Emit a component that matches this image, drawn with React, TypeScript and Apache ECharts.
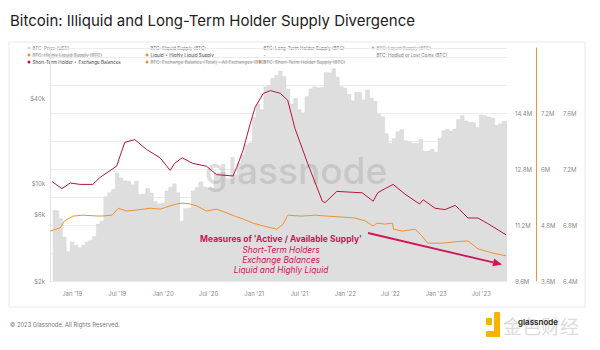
import React, { useEffect, useRef } from 'react';
import * as echarts from 'echarts';

// ---------- DATA ----------
const priceDates = [
  '2018-10-15','2018-11-01','2018-11-15','2018-12-01','2018-12-15',
  '2019-01-01','2019-01-15','2019-02-01','2019-02-15','2019-03-01','2019-03-15','2019-04-01','2019-04-15','2019-05-01','2019-05-15','2019-06-01','2019-06-15',
  '2019-07-01','2019-07-15','2019-08-01','2019-08-15','2019-09-01','2019-09-15','2019-10-01','2019-10-15','2019-11-01','2019-11-15','2019-12-01','2019-12-15',
  '2020-01-01','2020-01-15','2020-02-01','2020-02-15','2020-03-01','2020-03-15','2020-04-01','2020-04-15','2020-05-01','2020-05-15','2020-06-01','2020-06-15',
  '2020-07-01','2020-07-15','2020-08-01','2020-08-15','2020-09-01','2020-09-15','2020-10-01','2020-10-15','2020-11-01','2020-11-15','2020-12-01','2020-12-15',
  '2021-01-01','2021-01-15','2021-02-01','2021-02-15','2021-03-01','2021-03-15','2021-04-01','2021-04-15','2021-05-01','2021-05-15','2021-06-01','2021-06-15',
  '2021-07-01','2021-07-15','2021-08-01','2021-08-15','2021-09-01','2021-09-15','2021-10-01','2021-10-15','2021-11-01','2021-11-15','2021-12-01','2021-12-15',
  '2022-01-01','2022-01-15','2022-02-01','2022-02-15','2022-03-01','2022-03-15','2022-04-01','2022-04-15','2022-05-01','2022-05-15','2022-06-01','2022-06-15',
  '2022-07-01','2022-07-15','2022-08-01','2022-08-15','2022-09-01','2022-09-15','2022-10-01','2022-10-15','2022-11-01','2022-11-15','2022-12-01','2022-12-15',
  '2023-01-01','2023-01-15','2023-02-01','2023-02-15','2023-03-01','2023-03-15','2023-04-01','2023-04-15','2023-05-01','2023-05-15','2023-06-01','2023-06-15',
  '2023-07-01','2023-07-15','2023-08-01','2023-08-15','2023-09-01','2023-09-15','2023-10-01','2023-10-12'
];
const priceUsd = [
  6400, 6350, 5600, 4100, 3250,
  3800, 3600, 3450, 3600, 3800, 3900, 4150, 5100, 5350, 8000, 8550, 9000,
  11800, 10900, 10400, 10300, 9750, 10300, 8300, 8350, 9150, 8500, 7400, 7100,
  7200, 8800, 9350, 9900, 8550, 5350, 6600, 6650, 8800, 9300, 10200, 9400,
  9200, 9200, 11800, 11900, 11900, 10800, 10600, 11500, 13800, 15900, 18800, 19400,
  29400, 36700, 33500, 48800, 49600, 56000, 58800, 63200, 57800, 46800, 36700, 40200,
  33500, 31800, 41500, 47000, 48800, 48000, 48200, 61600, 61300, 65500, 57000, 48900,
  47700, 43000, 38700, 44500, 44400, 39300, 46300, 40500, 38500, 31300, 29800, 22500,
  19300, 20800, 23300, 24100, 20100, 19700, 19300, 19100, 20500, 16900, 17000, 17400,
  16600, 20900, 23700, 24300, 23600, 24400, 28500, 30300, 27800, 27200, 27000, 25000,
  30600, 30300, 29700, 29200, 25900, 26600, 27700, 27400
];

// Short-Term Holder + Exchange Balances (million BTC)
const sthExDates = [
  '2018-10-12','2018-11-21','2018-12-24','2019-02-02','2019-03-25','2019-04-23','2019-06-28','2019-07-31',
  '2019-09-09','2019-10-26','2019-12-20','2020-01-29','2020-02-16','2020-03-17','2020-04-29','2020-06-23',
  '2020-08-02','2020-10-07','2020-10-22','2020-11-16','2020-12-15','2021-01-04','2021-02-06','2021-03-07',
  '2021-04-16','2021-05-15','2021-06-13','2021-08-03','2021-10-01','2021-10-12','2021-11-28','2022-03-10',
  '2022-04-23','2022-05-11','2022-06-10','2022-07-12','2022-08-29','2022-10-26','2022-11-10','2022-12-27',
  '2023-02-05','2023-03-18','2023-04-05','2023-05-08','2023-06-17','2023-07-27','2023-10-08'
];
const sthExValues = [
  7.11, 7.06, 7.10, 7.09, 7.09, 7.14, 7.22, 7.39,
  7.41, 7.34, 7.28, 7.19, 7.24, 7.28, 7.24, 7.22,
  7.16, 7.15, 7.21, 7.33, 7.52, 7.64, 7.74, 7.76,
  7.74, 7.69, 7.49, 7.24, 6.97, 6.96, 7.04, 7.03,
  6.97, 7.03, 7.06, 7.09, 7.02, 6.95, 6.98, 6.92,
  6.91, 6.94, 6.91, 6.85, 6.85, 6.81, 6.73
];

// Liquid + Highly Liquid Supply (million BTC)
const liquidDates = [
  '2018-10-05','2018-11-14','2018-12-02','2019-01-04','2019-02-13','2019-04-23','2019-06-10','2019-07-05',
  '2019-08-07','2019-09-16','2019-11-10','2019-12-20','2020-01-29','2020-02-24','2020-03-17','2020-04-19',
  '2020-05-14','2020-06-23','2020-08-02','2020-09-12','2020-10-14','2020-11-16','2020-12-27','2021-02-06',
  '2021-04-01','2021-04-27','2021-05-15','2021-07-12','2021-09-02','2021-10-23','2021-12-20','2022-02-09',
  '2022-03-21','2022-04-23','2022-05-08','2022-06-10','2022-07-09','2022-07-14','2022-08-18','2022-10-08',
  '2022-11-06','2022-11-28','2023-01-26','2023-03-18','2023-05-08','2023-06-17','2023-08-14','2023-10-08'
];
const liquidValues = [
  4.67, 4.74, 4.89, 4.99, 5.01, 4.99, 5.01, 5.16,
  5.10, 5.12, 5.16, 5.14, 5.21, 5.25, 5.27, 5.25,
  5.21, 5.10, 5.14, 5.06, 4.99, 4.93, 4.84, 4.78,
  4.71, 4.82, 5.01, 4.99, 5.01, 4.99, 4.97, 4.95,
  4.89, 4.78, 4.84, 4.82, 4.84, 4.71, 4.67, 4.71,
  4.56, 4.41, 4.41, 4.44, 4.46, 4.29, 4.20, 4.14
];

const xTickDates = ['2019-01-01','2019-07-01','2020-01-01','2020-07-01','2021-01-01','2021-07-01','2022-01-01','2022-07-01','2023-01-01','2023-07-01'];
const xRange = ['2018-10-04', '2023-10-12'];
const monthNames = ['Jan','Feb','Mar','Apr','May','Jun','Jul','Aug','Sep','Oct','Nov','Dec'];
const priceTicks = [2000, 6000, 10000, 40000];
const axis1Ticks = [9.6, 11.2, 12.8, 14.4];
const axis2Ticks = [3.6, 4.8, 6, 7.2];
const axis3Ticks = [6.4, 6.8, 7.2, 7.6];

const titleText = 'Bitcoin: Illiquid and Long-Term Holder Supply Divergence';
const annotationTitle = "Measures of 'Active / Available Supply'";
const annotationLines = ['Short-Term Holders', 'Exchange Balances', 'Liquid and Highly Liquid'];
const footerText = '© 2023 Glassnode. All Rights Reserved.';

type LegendItem = { t: string; dot: string | null; c: string; struck?: boolean } | null;
const legendRows: LegendItem[][] = [
  [
    { t: 'BTC: Price (USD)', dot: '#d4d4d4', c: '#8a8a8a' },
    { t: 'BTC: Illiquid Supply (BTC)', dot: null, c: '#777' },
    { t: 'BTC: Long-Term Holder Supply (BTC)', dot: null, c: '#777' },
    { t: 'BTC: Liquid Supply (BTC)', dot: '#f2a55a', c: '#aaa', struck: true },
  ],
  [
    { t: 'BTC: Highly Liquid Supply (BTC)', dot: '#f0902c', c: '#999', struck: true },
    { t: 'Liquid + Highly Liquid Supply', dot: '#f0902c', c: '#444' },
    { t: '-', dot: null, c: '#444' },
    { t: 'BTC: Hodled or Lost Coins (BTC)', dot: null, c: '#777' },
  ],
  [
    { t: 'Short-Term Holder + Exchange Balances', dot: '#b8153a', c: '#444' },
    { t: 'BTC: Exchange Balance (Total) - All Exchanges (BTC)', dot: '#f0902c', c: '#999', struck: true },
    { t: 'BTC: Short-Term Holder Supply (BTC)', dot: '#f0902c', c: '#999', struck: true },
    null,
  ],
];

// ---------- LAYOUT ----------
const FONT = 'Inter, "Noto Sans", sans-serif';
const GRID = { left: 50, right: 93, top: 48, bottom: 69 };
const GRID_H = 350 - GRID.top - GRID.bottom;
const STEP_PX = 56;
const DECADE_PX = 140;

function ts(s: string): number {
  const [y, m, d] = s.split('-').map(Number);
  return new Date(y, m - 1, d).getTime();
}

function measure(text: string, size: number): number {
  const c = document.createElement('canvas').getContext('2d');
  if (!c) return text.length * size * 0.5;
  c.font = `${size}px Inter`;
  return c.measureText(text).width;
}

export default function App() {
  const ref = useRef<HTMLDivElement>(null);

  useEffect(() => {
    document.body.style.margin = '0';
    if (!ref.current) return;
    const chart = echarts.init(ref.current, undefined, { renderer: 'svg' });

    const logMin = Math.log10(2000);
    const logMax = logMin + GRID_H / DECADE_PX;

    const labelStyle = { fontSize: 6, color: '#8a8a8a', fontFamily: FONT };
    const mFmt = (v: number) => `${Number(v.toFixed(1))}M`;

    // legend graphics
    const colX = [29, 147, 260, 373];
    const rowY = [48, 55, 62];
    const LFS = 4.6;
    const legendEls: any[] = [];
    legendRows.forEach((row, ri) => {
      row.forEach((it, ci) => {
        if (!it) return;
        const x = colX[ci];
        const y = rowY[ri];
        if (it.dot) {
          legendEls.push({ type: 'circle', silent: true, shape: { cx: x, cy: y, r: 1.5 }, style: { fill: it.dot } });
        }
        legendEls.push({
          type: 'text', silent: true, x: x + 3.5, y,
          style: { text: it.t, fontSize: LFS, fill: it.c, fontFamily: FONT, verticalAlign: 'middle', align: 'left' },
        });
        if (it.struck) {
          const w = measure(it.t, LFS);
          legendEls.push({
            type: 'line', silent: true,
            shape: { x1: x + 3.5, y1: y, x2: x + 3.5 + w, y2: y },
            style: { stroke: it.c, lineWidth: 0.5 },
          });
        }
      });
    });

    // arrow
    const ax1 = 368, ay1 = 233, ax2 = 502, ay2 = 264.5;
    const len = Math.hypot(ax2 - ax1, ay2 - ay1);
    const ux = (ax2 - ax1) / len, uy = (ay2 - ay1) / len;
    const bx = ax2 - ux * 9, by = ay2 - uy * 9;
    const px = -uy * 4, py = ux * 4;
    const RED = '#d0145a';

    const option: any = {
      animation: false,
      grid: { ...GRID, containLabel: false },
      xAxis: {
        type: 'value',
        min: ts(xRange[0]),
        max: ts(xRange[1]),
        axisLine: { show: false },
        axisTick: { show: false },
        splitLine: { show: false },
        axisLabel: {
          ...labelStyle,
          margin: 9,
          customValues: xTickDates.map(ts),
          formatter: (v: number) => {
            const d = new Date(v);
            return `${monthNames[d.getMonth()]} '${String(d.getFullYear()).slice(2)}`;
          },
        },
      },
      yAxis: [
        {
          type: 'value', position: 'left', min: logMin, max: logMax,
          axisLine: { show: true, lineStyle: { color: '#e4e4e4', width: 1 } },
          axisTick: { show: false },
          splitLine: { show: false },
          axisLabel: {
            ...labelStyle, margin: 5,
            customValues: priceTicks.map((p) => Math.log10(p)),
            formatter: (v: number) => `$${Math.round(Math.pow(10, v) / 1000)}k`,
          },
        },
        {
          type: 'value', position: 'right', offset: 0, min: 9.6, max: 9.6 + (GRID_H / STEP_PX) * 1.6, interval: 0.8,
          axisLine: { show: false }, axisTick: { show: false },
          splitLine: { show: true, lineStyle: { color: '#ececec', width: 1 } },
          axisLabel: { ...labelStyle, margin: 8, customValues: axis1Ticks, formatter: mFmt },
        },
        {
          type: 'value', position: 'right', offset: 29, min: 3.6, max: 3.6 + (GRID_H / STEP_PX) * 1.2,
          axisLine: { show: true, lineStyle: { color: '#e0973f', width: 1 } }, axisTick: { show: false },
          splitLine: { show: false },
          axisLabel: { ...labelStyle, margin: 5, customValues: axis2Ticks, formatter: mFmt },
        },
        {
          type: 'value', position: 'right', offset: 50, min: 6.4, max: 6.4 + (GRID_H / STEP_PX) * 0.4,
          axisLine: { show: false }, axisTick: { show: false },
          splitLine: { show: false },
          axisLabel: { ...labelStyle, margin: 6, customValues: axis3Ticks, formatter: mFmt },
        },
      ],
      series: [
        {
          name: 'BTC: Price (USD)', type: 'line', xAxisIndex: 0, yAxisIndex: 0,
          data: priceDates.map((d, i) => [ts(d), Math.log10(priceUsd[i])]),
          step: 'middle',
          showSymbol: false,
          lineStyle: { width: 0.4, color: '#d2d2d2' },
          areaStyle: { color: '#dedede', opacity: 1, origin: 'start' },
          z: 2,
        },
        {
          name: 'Liquid + Highly Liquid Supply', type: 'line', yAxisIndex: 2,
          data: liquidDates.map((d, i) => [ts(d), liquidValues[i]]),
          showSymbol: false, lineStyle: { color: '#f0902c', width: 1 }, z: 5,
        },
        {
          name: 'Short-Term Holder + Exchange Balances', type: 'line', yAxisIndex: 3,
          data: sthExDates.map((d, i) => [ts(d), sthExValues[i]]),
          showSymbol: false, lineStyle: { color: '#b8153a', width: 1 }, z: 5,
        },
      ],
      graphic: [
        { type: 'rect', silent: true, z: 0, shape: { x: 9, y: 42, width: 576, height: 265 }, style: { fill: 'none', stroke: '#e8e8e8', lineWidth: 1 } },
        { type: 'text', silent: true, x: 10, y: 20, style: { text: titleText, fontSize: 15, fill: '#222', fontFamily: FONT, verticalAlign: 'middle' } },
        ...legendEls,
        {
          type: 'text', silent: true, z: 3, x: 296, y: 170,
          style: { text: 'glassnode', fontSize: 37, fontWeight: 500, fill: 'rgba(150,150,150,0.32)', fontFamily: FONT, align: 'center', verticalAlign: 'middle' },
        },
        {
          type: 'text', silent: true, z: 10, x: 281, y: 239,
          style: { text: annotationTitle, fontSize: 8.5, fontWeight: 'bold', fill: RED, fontFamily: FONT, align: 'center', verticalAlign: 'middle' },
        },
        ...annotationLines.map((t, i) => ({
          type: 'text', silent: true, z: 10, x: 281, y: 249.5 + i * 10,
          style: { text: t, fontSize: 8.3, fontStyle: 'italic', fill: RED, fontFamily: FONT, align: 'center', verticalAlign: 'middle' },
        })),
        { type: 'line', silent: true, z: 10, shape: { x1: ax1, y1: ay1, x2: bx, y2: by }, style: { stroke: RED, lineWidth: 1.8 } },
        { type: 'polygon', silent: true, z: 10, shape: { points: [[ax2, ay2], [bx + px, by + py], [bx - px, by - py]] }, style: { fill: RED } },
        { type: 'text', silent: true, x: 10, y: 324, style: { text: footerText, fontSize: 5.8, fill: '#777', fontFamily: FONT, verticalAlign: 'middle' } },
        // bottom-right logo
        { type: 'rect', silent: true, shape: { x: 486, y: 318, width: 6, height: 7, r: 1 }, style: { fill: '#f5b400' } },
        { type: 'rect', silent: true, shape: { x: 494, y: 312, width: 6, height: 25, r: 1 }, style: { fill: '#f5b400' } },
        { type: 'rect', silent: true, shape: { x: 486, y: 331, width: 14, height: 6, r: 1 }, style: { fill: '#f5b400' } },
        { type: 'text', silent: true, x: 503, y: 325, style: { text: '金色财经', fontSize: 19, fill: '#dcdcdc', fontFamily: '"Noto Sans CJK SC", sans-serif', verticalAlign: 'middle' } },
        { type: 'text', silent: true, x: 518, y: 322, style: { text: 'glassnode', fontSize: 8, fontWeight: 600, fill: '#222', fontFamily: FONT, verticalAlign: 'middle' } },
      ],
    };

    chart.setOption(option);
    return () => chart.dispose();
  }, []);

  return <div ref={ref} style={{ width: 600, height: 350, background: '#fff' }} />;
}
